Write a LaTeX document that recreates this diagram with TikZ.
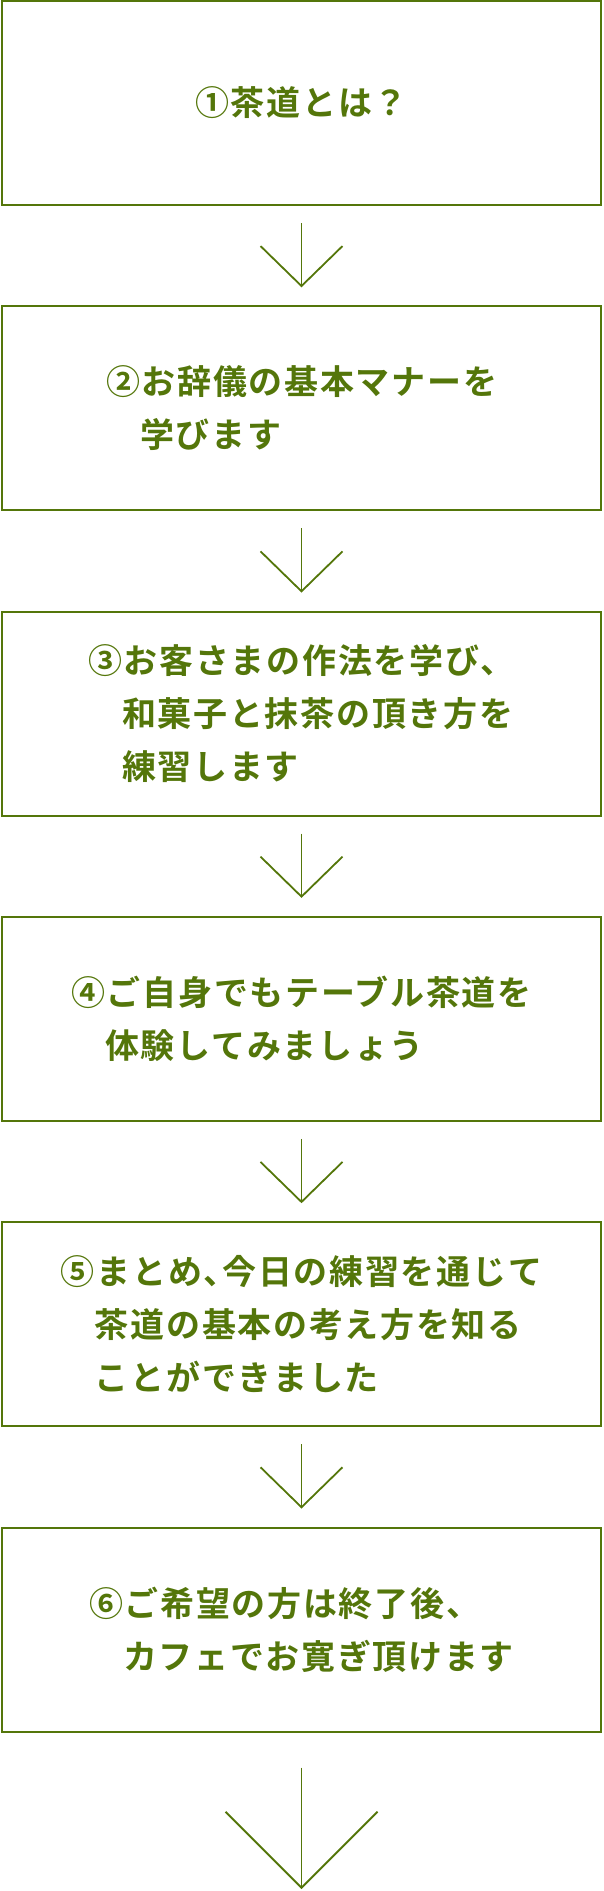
\documentclass[tikz,border=0pt]{standalone}
\usepackage{fontspec}
\newfontfamily\jpfont[BoldFont={Noto Sans CJK JP Bold},LetterSpace=5]{Noto Sans CJK JP Bold}
\usetikzlibrary{arrows.meta,positioning}
\definecolor{teagreen}{RGB}{84,118,10}
\tikzset{>={Straight Barb[length=40pt,width=82pt]}, % open V head of the arrows
node distance=305.3pt, % distance between the centres of two steps
stepbox/.style={draw=teagreen, line width=2pt, minimum width=599pt, minimum height=204pt, inner sep=0pt, outer sep=0pt, align=left, text=teagreen, font=\jpfont\fontsize{34}{53}\selectfont}, % sets the properties for each step
flow/.style={->, draw=teagreen, line width=1.8pt, shorten <=18pt, shorten >=19pt}, % arrow between two steps
}

\begin{document}
\begin{tikzpicture}[x=1pt,y=1pt]
\useasboundingbox (0,0) rectangle (603,-1891);
\node[stepbox] (b1) at (301.5,-103) {①茶道とは？};
\node[stepbox, below of=b1] (b2) {②お辞儀の基本マナーを\\\hphantom{②}学びます};
\node[stepbox, below of=b2] (b3) {③お客さまの作法を学び、\\\hphantom{③}和菓子と抹茶の頂き方を\\\hphantom{③}練習します};
\node[stepbox, below of=b3] (b4) {④ご自身でもテーブル茶道を\\\hphantom{④}体験してみましょう};
\node[stepbox, below of=b4] (b5) {⑤まとめ、\kern-.45em 今日の練習を通じて\\\hphantom{⑤}茶道の基本の考え方を知る\\\hphantom{⑤}ことができました};
\node[stepbox, below of=b5] (b6) {⑥ご希望の方は終了後、\\\hphantom{⑥}カフェでお寛ぎ頂けます};
\coordinate (end) at (301.5,-1889);
\draw[flow] (b1) edge (b2)
(b2) edge (b3)
(b3) edge (b4)
(b4) edge (b5)
(b5) edge (b6);
\draw[flow, shorten <=36pt, shorten >=0pt, >={Straight Barb[length=76pt,width=152pt]}] (b6) -- (end);
\end{tikzpicture}
\end{document}
